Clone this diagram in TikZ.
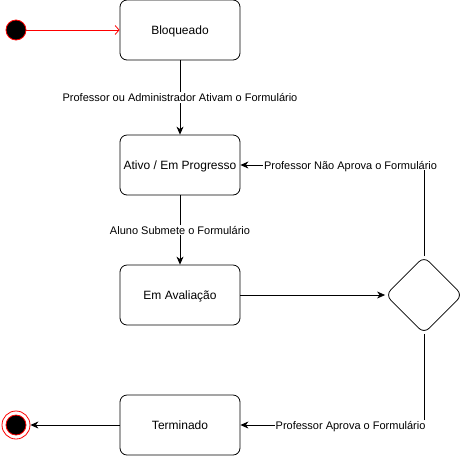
\documentclass[tikz,border=0pt]{standalone}
\usepackage{fontspec}
\setmainfont{Liberation Sans}
\usetikzlibrary{arrows.meta, shapes.geometric}

\begin{document}
\begin{tikzpicture}[x=1pt,y=1pt,yscale=-1,line width=0.8pt,
  state/.style={draw, rounded corners=7pt, minimum width=120pt, minimum height=60pt, text depth=0pt, font=\fontsize{12}{14}\selectfont},
  flow/.style={-{Stealth[length=8pt,width=7pt,inset=2.5pt]}},
  lbl/.style={fill=white, inner sep=1pt, text depth=0pt, font=\fontsize{11}{13}\selectfont}]
\useasboundingbox (0,0) rectangle (465,456);

% Start / End
\node [circle, draw=red, fill=black, minimum size=20pt, inner sep=0pt] (inicio) at (16,30) {};
\node [circle, draw=red, fill=white, minimum size=28pt, inner sep=0pt] (fim) at (16,425) {};
\node [circle, draw=red, fill=black, minimum size=20pt, inner sep=0pt] (fimdisco) at (16,425) {};

% States
\node [state] (bloqueado) at (180,30) {Bloqueado};
\node [state] (ativo) at (180,165) {Ativo / Em Progresso};
\node [state] (avaliacao) at (180,295) {Em Avaliação};
\node [state] (terminado) at (180,425) {Terminado};

% Decision
\node [diamond, draw, rounded corners=7pt, minimum width=77pt, minimum height=77pt, inner sep=0pt] (decisao) at (424,295) {};

% Transitions
\draw [red, -{Straight Barb[length=4pt,width=9pt]}] (inicio) -- (bloqueado);
\draw [flow] (bloqueado) -- node [lbl] {Professor ou Administrador Ativam o Formulário} (ativo);
\draw [flow] (ativo) -- node [lbl] {Aluno Submete o Formulário} (avaliacao);
\draw [flow] (avaliacao) -- (decisao);
\draw [flow] (decisao.north) |- node [lbl, pos=0.7] {Professor Não Aprova o Formulário} (ativo.east);
\draw [flow] (decisao.south) |- node [lbl, pos=0.7] {Professor Aprova o Formulário} (terminado.east);
\draw [flow] (terminado) -- (fim);

\end{tikzpicture}
\end{document}
